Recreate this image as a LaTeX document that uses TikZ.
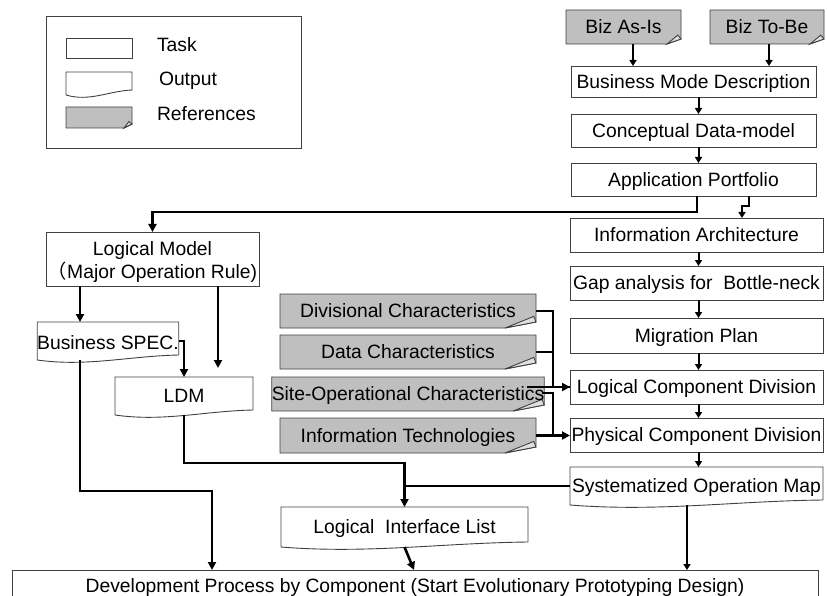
\documentclass[tikz,border=0pt]{standalone}
\usepackage{fontspec}
\setmainfont{Liberation Sans}
\newfontfamily\cjkfont{Noto Sans CJK SC}
\usetikzlibrary{arrows.meta,calc}
\pgfdeclarelayer{background}
\pgfsetlayers{background,main}

\tikzset{
  lbl/.style={inner sep=0pt, outer sep=0pt, font=\fontsize{19.3}{22.6}\selectfont, align=center},
  boxsize/.style 2 args={lbl, minimum width=#1pt, minimum height=#2pt, text height=13.8pt, text depth=0pt},
  boxline/.style={draw=black!75, line width=0.9pt},
  task/.style={boxline},
  reffill/.style={boxline, fill=black!25},
  flapfill/.style={boxline, fill=black!12},
  link/.style={line width=2.6pt, -{Triangle[length=8pt,width=8pt]}},
  linkplain/.style={line width=2.6pt},
  mid/.style={line width=2pt, -{Triangle[length=6pt,width=7pt]}},
  col/.style={line width=2pt, -{Triangle[length=6pt,width=7pt]}},
}

% document (output) outline: wavy bottom, right corner raised
\newcommand\docoutline[1]{%
  \draw[boxline] (#1.south west) -- (#1.north west) -- (#1.north east) -- ([yshift=5pt]#1.south east)
    .. controls ($(#1.south west)!0.65!(#1.south east)+(0,4pt)$) and ($(#1.south west)!0.35!(#1.south east)+(0,-7pt)$) .. (#1.south west);}

% reference outline: grey card with a folded bottom-right corner
% #2,#3 ear width/height, #4,#5 flap tip offset from the corner
\newcommand\refoutline[5]{%
  \draw[reffill] (#1.south west) -- (#1.north west) -- (#1.north east) -- ([yshift=#3pt]#1.south east)
    -- ([xshift=-#2pt]#1.south east) -- cycle;
  \draw[flapfill] ([xshift=-#2pt]#1.south east) -- ([yshift=#3pt]#1.south east)
    -- ([xshift=-#4pt,yshift=#5pt]#1.south east) -- cycle;}

\begin{document}
\begin{tikzpicture}[x=1pt,y=-1pt]
\useasboundingbox (0,0) rectangle (827,596);

% ---------- legend ----------
\node[boxsize={255}{132}, task] (legend) at (173.5,82) {};
\node[boxsize={66}{20}, task] (ltask) at (99,48) {};
\node[boxsize={66}{23}] (lout) at (99,83.5) {};
\node[boxsize={66}{21}] (lref) at (99,117.5) {};
\node[lbl, anchor=base west] (ttask) at (157,51.7) {Task};
\node[lbl, anchor=base west] (tout) at (159,86) {Output};
\node[lbl, anchor=base west] (tref) at (157,120.7) {References};

% ---------- right column ----------
\node[boxsize={115}{34}] (bizas) at (623.5,27) {Biz As-Is};
\node[boxsize={114}{34}] (biztobe) at (767,27) {Biz To-Be};
\node[boxsize={245}{31}, task] (bmd) at (693.5,81.5) {Business Mode Description};
\node[boxsize={245}{33}, task] (cdm) at (693.5,130.5) {Conceptual Data-model};
\node[boxsize={245}{33}, task] (ap) at (693.5,179.5) {Application Portfolio};
\node[boxsize={253}{34}, task] (ia) at (696.5,235) {Information Architecture};
\node[boxsize={253}{34}, task] (gap) at (696.5,283) {Gap analysis for\ \ Bottle-neck};
\node[boxsize={253}{35}, task] (mig) at (696.5,335.5) {Migration Plan};
\node[boxsize={253}{34}, task] (lcd) at (696.5,387) {Logical Component Division};
\node[boxsize={253}{34}, task] (pcd) at (696.5,435) {Physical Component Division};
\node[boxsize={253}{38}] (som) at (696.5,486) {Systematized Operation Map};

% ---------- left side ----------
\node[boxsize={213}{54}, task, text height=38.6pt, text depth=0pt] (lm) at (152.5,259)
  {Logical Model\\{\cjkfont （}Major Operation Rule)};
\node[boxsize={138}{38}, text height=17.4pt] (bspec) at (108,341) {Business SPEC.};
\node[boxsize={138}{38}] (ldm) at (184,396) {LDM};
\node[boxsize={247}{40}] (lil) at (404.5,527) {Logical\ \ Interface List};

% ---------- characteristics ----------
\node[boxsize={256}{34}] (div) at (408,311) {Divisional Characteristics};
\node[boxsize={256}{34}] (data) at (408,352) {Data Characteristics};
\node[boxsize={256}{34}] (site) at (408,394) {Site-Operational Characteristics};
\node[boxsize={256}{35}] (itech) at (408,435.5) {Information Technologies};

% ---------- bottom ----------
\node[boxsize={806}{26}, task, text height=18.3pt] (dev) at (415,583)
  {Development Process by Component (Start Evolutionary Prototyping Design)};

% ---------- outlines behind the texts ----------
\begin{pgfonlayer}{background}
  \docoutline{lout}
  \refoutline{lref}{8}{4}{3.2}{6.4}
  \refoutline{bizas}{14}{5}{3.2}{8.9}
  \refoutline{biztobe}{14}{5}{3.2}{8.9}
  \docoutline{som}
  \docoutline{bspec}
  \docoutline{ldm}
  \docoutline{lil}
  \refoutline{div}{31}{6}{2.2}{11.6}
  \refoutline{data}{31}{6}{2.2}{11.6}
  \refoutline{site}{31}{6}{2.2}{11.6}
  \refoutline{itech}{31}{6}{2.2}{11.6}
\end{pgfonlayer}

% ---------- connectors ----------
\coordinate (asx) at (633,0);
\coordinate (tbx) at (769,0);
\coordinate (colx) at (698.5,0);
\coordinate (apx) at (697,0);
\coordinate (jx) at (749,0);
\coordinate (jx2) at (742,0);

\draw[col] (bizas.south -| asx) -- (bmd.north -| asx);
\draw[col] (biztobe.south -| tbx) -- (bmd.north -| tbx);
\draw[col] (bmd.south -| colx) -- (cdm.north -| colx);
\draw[col] (cdm.south -| colx) -- (ap.north -| colx);
\draw[link] (ap.south -| apx) -- ++(0,16) -| (lm.north);
\draw[col] (ap.south -| jx) -- ++(0,10) -| (ia.north -| jx2);
\draw[col] (ia.south -| colx) -- (gap.north -| colx);
\draw[col] (gap.south -| colx) -- (mig.north -| colx);
\draw[col] (mig.south -| colx) -- (lcd.north -| colx);
\draw[col] (lcd.south -| colx) -- (pcd.north -| colx);
\draw[col] (pcd.south -| colx) -- (som.north -| colx);

% logical model branch
\coordinate (lx1) at (80,0);
\coordinate (lx2) at (218,0);
\coordinate (ldmstop) at (218,368);
\draw[link] (lm.south -| lx1) -- (bspec.north -| lx1);
\draw[link] (lm.south -| lx2) -- (ldmstop);
\draw[link] (bspec.east) -| (ldm.north);

% into the development box
\coordinate (devx1) at (212,491);
\draw[link] (bspec.south -| lx1) |- (devx1) -- (dev.north -| devx1);
\coordinate (lj) at (404.5,463);
\draw[link] (ldm.south) |- (lj) -- (lil.north);
\draw[linkplain] (som.west) -- (som.west -| lj);
\coordinate (lilx) at (414,0);
\draw[link] (lil.south) -- (dev.north -| lilx);
\coordinate (somx) at (687,0);
\draw[mid] (som.south -| somx) -- (dev.north -| somx);

% characteristics into the component divisions
\coordinate (busx) at (553,0);
\coordinate (sitein) at (527,387);
\coordinate (siteout) at (542,393);
\draw[link] (div.east) -| (busx |- lcd.west) -- (lcd.west);
\draw[linkplain] (data.east) -- (data.east -| busx);
\draw[linkplain] (sitein) -- (lcd.west);
\draw[linkplain] (siteout) -| (busx |- pcd.west);
\draw[link] (itech.east) -- (itech.east -| pcd.west);
\end{tikzpicture}
\end{document}
